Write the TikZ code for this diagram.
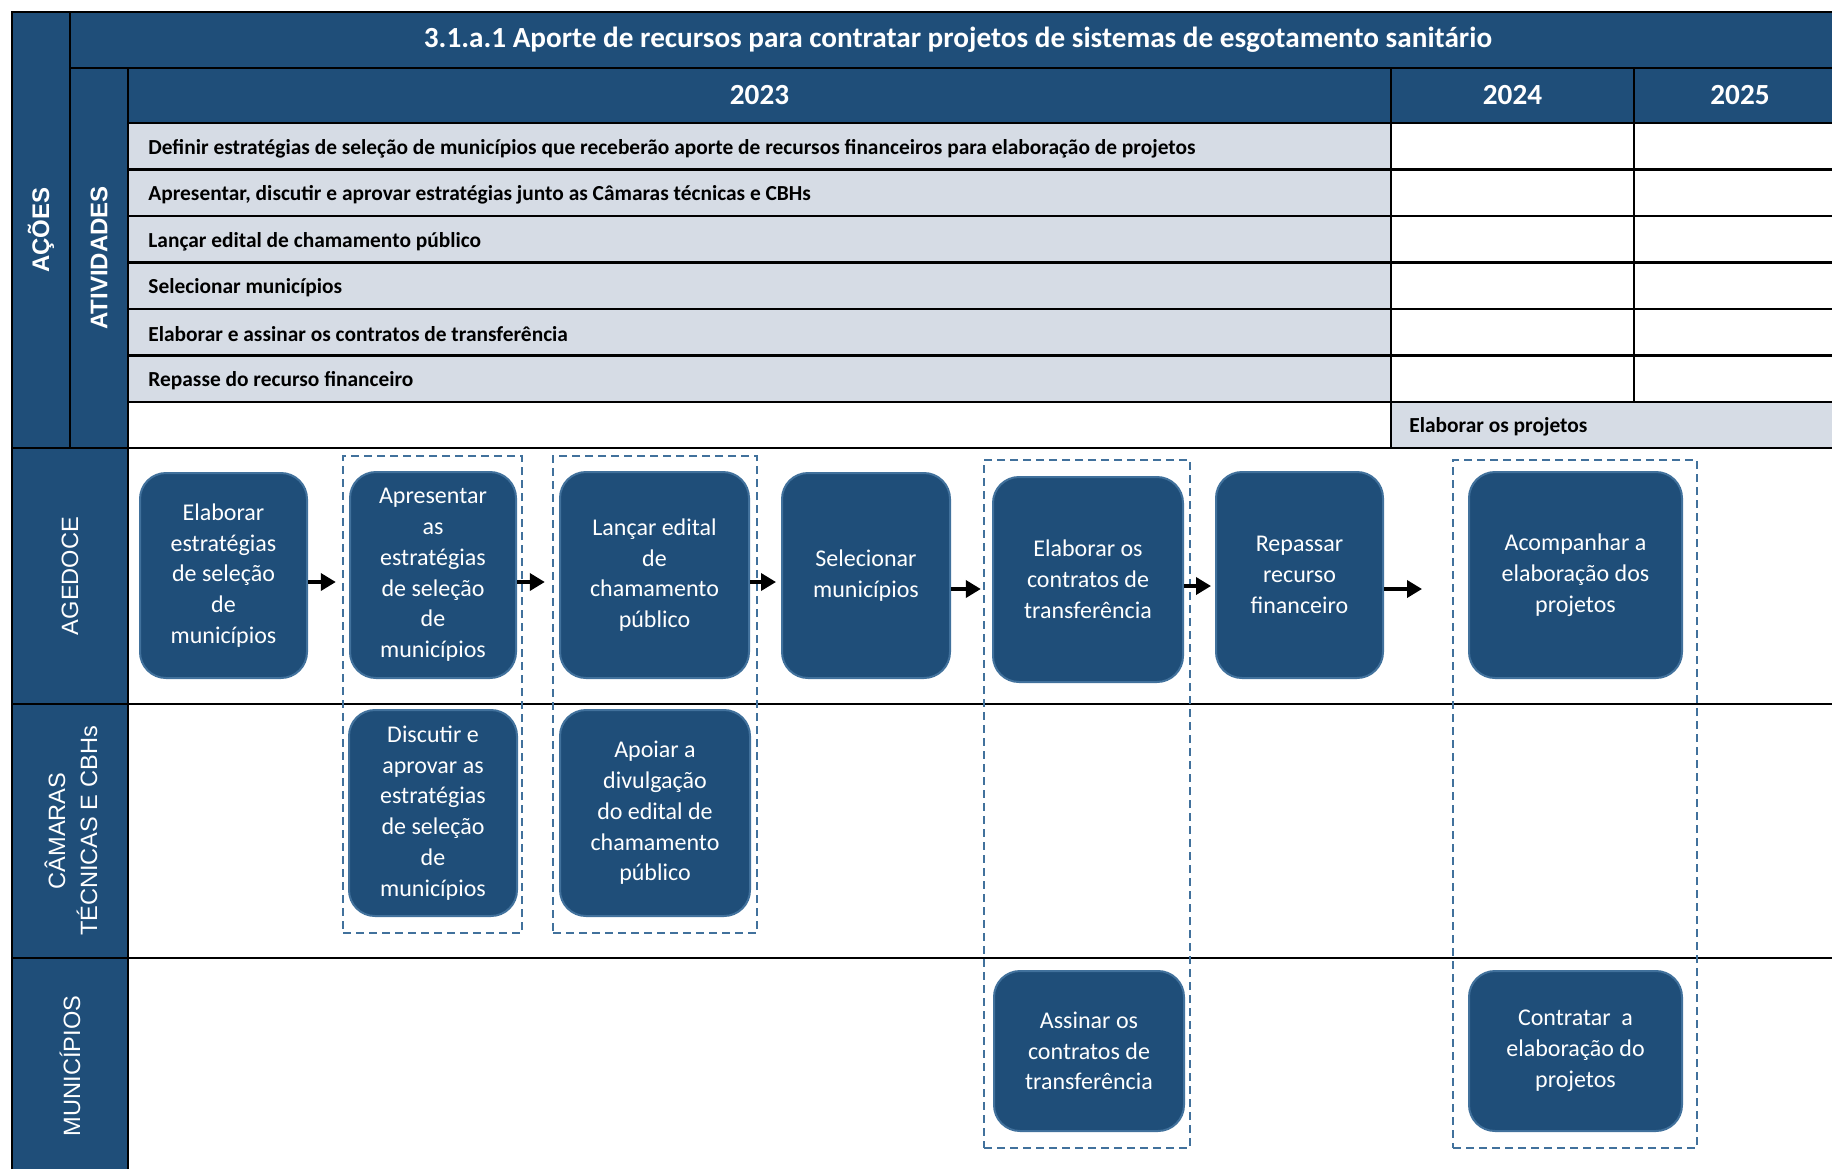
\documentclass[tikz,border=0pt]{standalone}
\usepackage{fontspec}
\setmainfont{Carlito}
\newfontfamily\lanefont{Liberation Sans}
\usetikzlibrary{arrows.meta}
\definecolor{navy}{RGB}{31,78,121}
\definecolor{edgeblue}{RGB}{65,113,156}
\definecolor{rowgrey}{RGB}{214,220,229}

\begin{document}
\begin{tikzpicture}[x=0.5pt, y=-0.5pt,
  grid/.style={draw=black, line width=1.4pt},
  headtext/.style={text=white, font=\bfseries\fontsize{14.6}{17}\selectfont, inner sep=0},
  acttext/.style={anchor=west, font=\bfseries\fontsize{10.7}{12}\selectfont, inner sep=0},
  sidetext/.style={rotate=90, text=white, font=\lanefont\bfseries\fontsize{12}{14}\selectfont, inner sep=0},
  lanetext/.style={rotate=90, text=white, align=center, font=\lanefont\fontsize{11.8}{16}\selectfont, inner sep=0},
  task/.style={draw=edgeblue, fill=navy, line width=1pt, rounded corners=13pt, text=white, align=center, font=\fontsize{12}{15.4}\selectfont, inner sep=0},
  group/.style={draw=edgeblue, line width=1.2pt, dash pattern=on 4pt off 2.5pt, inner sep=0, minimum height=238.5pt},
  flow/.style={draw=black, line width=1.8pt, -{Triangle[length=7.5pt,width=8.5pt]}}
]
\useasboundingbox (0,0) rectangle (1832,1168);
\clip (0,0) rectangle (1832,1168);

\fill[navy] (12,12) rectangle (1846,123);
\fill[navy] (12,12) rectangle (128,1180);
\fill[rowgrey] (128,123) rectangle (1391,402);
\fill[rowgrey] (1391,402) rectangle (1846,448);

\draw[grid] (12,12) rectangle (1846,1180);
\draw[grid] (70,12) -- (70,448);
\draw[grid] (70,68) -- (1846,68);
\draw[grid] (128,68) -- (128,1180);
\foreach \y in {123,169.5,216,262.5,309,355.5,402} \draw[grid] (128,\y) -- (1846,\y);
\draw[grid] (1391,68) -- (1391,448);
\draw[grid] (1634,68) -- (1634,402);
\foreach \y in {448,704,958} \draw[grid] (12,\y) -- (1846,\y);

\node[headtext] (title) at (958,40) {3.1.a.1 Aporte de recursos para contratar projetos de sistemas de esgotamento sanitário};
\node[headtext] (y2023) at (759.5,95) {2023};
\node[headtext] (y2024) at (1512.5,95) {2024};
\node[headtext] (y2025) at (1740,95) {2025};

\node[sidetext] (acoes) at (41,230) {AÇÕES};
\node[sidetext] (ativ) at (99,258) {ATIVIDADES};

\node[acttext] (act1) at (148,148.5) {Definir estratégias de seleção de municípios que receberão aporte de recursos financeiros para elaboração de projetos};
\node[acttext] (act2) at (148,195) {Apresentar, discutir e aprovar estratégias junto as Câmaras técnicas e CBHs};
\node[acttext] (act3) at (148,241.5) {Lançar edital de chamamento público};
\node[acttext] (act4) at (148,288) {Selecionar municípios};
\node[acttext] (act5) at (148,334.5) {Elaborar e assinar os contratos de transferência};
\node[acttext] (act6) at (148,381) {Repasse do recurso financeiro};
\node[acttext] (act7) at (1409,427) {Elaborar os projetos};

\node[lanetext] (lagedoce) at (70,576) {AGEDOCE};
\node[lanetext] (lcamaras) at (71,831) {CÂMARAS\\TÉCNICAS E CBHs};
\node[lanetext] (lmunic) at (70,1066) {MUNICÍPIOS};

\node[group, minimum width=89.5pt] (grpA) at (432.5,694.5) {};
\node[group, minimum width=102pt] (grpB) at (655,694.5) {};
\node[group, minimum width=103pt, minimum height=344pt] (grpC) at (1087,804) {};
\node[group, minimum width=122pt, minimum height=344pt] (grpD) at (1575,804) {};

\node[task, minimum width=83.5pt, minimum height=102.5pt] (elab) at (223.5,575.5) {Elaborar\\estratégias\\de seleção\\de\\municípios};
\node[task, minimum width=83pt, minimum height=103pt] (apres) at (433,575) {Apresentar\\as\\estratégias\\de seleção\\de\\municípios};
\node[task, minimum width=94.5pt, minimum height=103pt] (lancar) at (654.5,575) {Lançar edital\\de\\chamamento\\público};
\node[task, minimum width=84pt, minimum height=102.5pt] (selec) at (866,575.5) {Selecionar\\municípios};
\node[task, minimum width=95pt, minimum height=102.5pt] (contr) at (1088,579.5) {Elaborar os\\contratos de\\transferência};
\node[task, minimum width=83.5pt, minimum height=103pt] (repas) at (1299.5,575) {Repassar\\recurso\\financeiro};
\node[task, minimum width=106.5pt, minimum height=103pt] (acomp) at (1575.5,575) {Acompanhar a\\elaboração dos\\projetos};

\node[task, minimum width=84pt, minimum height=103pt] (discut) at (433,813) {Discutir e\\aprovar as\\estratégias\\de seleção\\de\\municípios};
\node[task, minimum width=95pt, minimum height=103pt] (apoiar) at (655,813) {Apoiar a\\divulgação\\do edital de\\chamamento\\público};

\node[task, minimum width=95pt, minimum height=80pt] (assin) at (1089,1051) {Assinar os\\contratos de\\transferência};
\node[task, minimum width=106.5pt, minimum height=80pt] (contrat) at (1575.5,1051) {Contratar\ \ a\\elaboração do\\projetos};

\coordinate (flowend) at (1422,589);
\draw[flow, shorten >=3pt] ([yshift=-3.25pt]elab.east) -- ([yshift=-3.25pt]elab.east -| grpA.west);
\draw[flow, shorten >=3.5pt] ([yshift=-3.5pt]apres.east) -- ([yshift=-3.5pt]apres.east -| grpB.west);
\draw[flow, shorten >=2.5pt] ([yshift=-3.5pt]lancar.east) -- ([yshift=-3.5pt]lancar.east -| selec.west);
\draw[flow, shorten >=1pt] ([yshift=-6.75pt]selec.east) -- ([yshift=-6.75pt]selec.east -| grpC.west);
\draw[flow, shorten >=2pt] ([yshift=-3.25pt]contr.east) -- ([yshift=-3.25pt]contr.east -| repas.west);
\draw[flow] ([yshift=-7pt]repas.east) -- (flowend);
\end{tikzpicture}
\end{document}
